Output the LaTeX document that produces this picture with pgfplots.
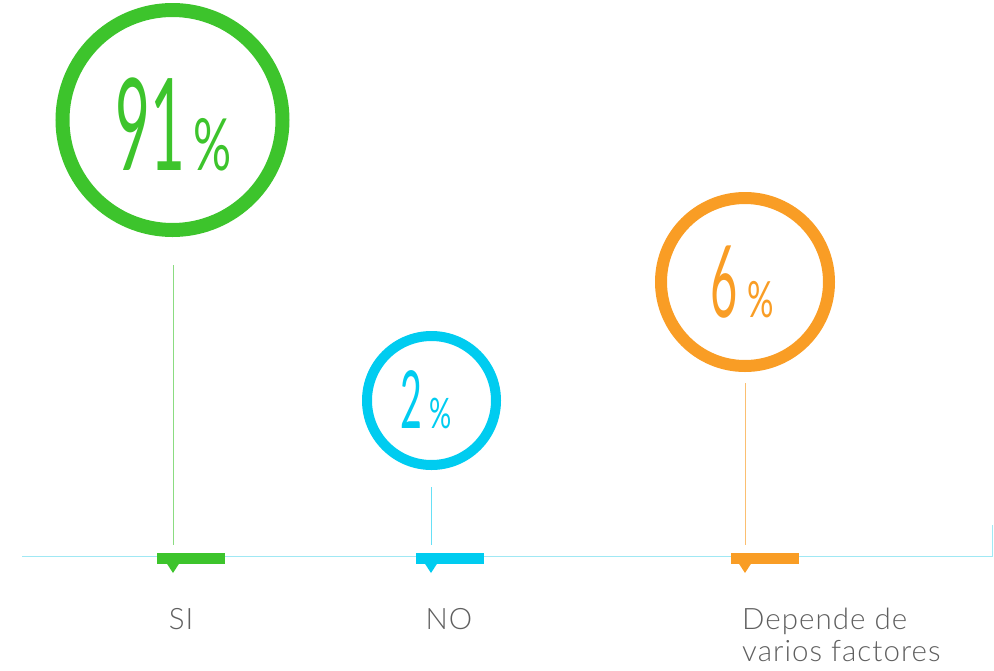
\documentclass[border=0pt]{standalone}
\usepackage{pgfplots}
\pgfplotsset{compat=1.18}
\usepackage{fontspec}
\setmainfont{Lato}
\newfontfamily\lightfont{Lato Light}[LetterSpace=3.5]
\definecolor{cgreen}{RGB}{61,196,44}
\definecolor{ccyan}{RGB}{0,204,240}
\definecolor{corange}{RGB}{249,157,37}
\definecolor{cbase}{RGB}{160,232,244}
\definecolor{ctext}{RGB}{95,95,95}
% #1 number size, #2 percent size, #3 color, #4 number, #5 gap
\newcommand{\pct}[5]{%
  \textcolor{#3}{\scalebox{0.47}[1]{\fontsize{#1}{#1}\selectfont #4}\hspace{#5}\scalebox{0.66}[1]{\fontsize{#2}{#2}\selectfont\%}}}
\begin{document}
\begin{tikzpicture}
\begin{axis}[
  width=994pt, height=670pt, scale only axis,
  xmin=0, xmax=994, ymin=0, ymax=670, y dir=reverse,
  hide axis, clip=false,
]
% baseline
\addplot[cbase, line width=1.5pt] coordinates {(22,556.5) (992.5,556.5) (992.5,525)};
% stems
\addplot[cgreen!60, line width=1pt] coordinates {(173,265) (173,545)};
\addplot[ccyan!60, line width=1pt] coordinates {(431,487) (431,545)};
\addplot[corange!65, line width=1pt] coordinates {(745,383) (745,545)};
% circles
\addplot[only marks, mark=o, mark size=110pt, mark options={draw=cgreen, line width=14pt}] coordinates {(172.5,120)};
\addplot[only marks, mark=o, mark size=64.5pt, mark options={draw=ccyan, line width=10pt}] coordinates {(431.5,400.5)};
\addplot[only marks, mark=o, mark size=84pt, mark options={draw=corange, line width=12pt}] coordinates {(745,282)};
% bars
\addplot[fill=cgreen, draw=none] coordinates {(157,552.5) (225,552.5) (225,563.5) (157,563.5)} --cycle;
\addplot[fill=cgreen, draw=none] coordinates {(166.5,563) (179.5,563) (173,573)} --cycle;
\addplot[fill=ccyan, draw=none] coordinates {(416,552.5) (484,552.5) (484,563.5) (416,563.5)} --cycle;
\addplot[fill=ccyan, draw=none] coordinates {(424.5,563) (437.5,563) (431,573)} --cycle;
\addplot[fill=corange, draw=none] coordinates {(731,552.5) (799,552.5) (799,563.5) (731,563.5)} --cycle;
\addplot[fill=corange, draw=none] coordinates {(738.5,563) (751.5,563) (745,573)} --cycle;
% numbers
\node[anchor=base west, inner sep=0] at (axis cs:115,170) {\pct{128}{72}{cgreen}{91}{9pt}};
\node[anchor=base west, inner sep=0] at (axis cs:400,428) {\pct{80}{42}{ccyan}{2}{7pt}};
\node[anchor=base west, inner sep=0] at (axis cs:710,317) {\pct{100}{50}{corange}{6}{10pt}};
% labels
\node[anchor=base, inner sep=0, text=ctext, font=\lightfont\fontsize{29.5}{34}\selectfont] at (axis cs:181,629) {SI};
\node[anchor=base, inner sep=0, text=ctext, font=\lightfont\fontsize{29.5}{34}\selectfont] at (axis cs:449,629) {NO};
\node[anchor=base west, inner sep=0, text=ctext, font=\lightfont\fontsize{29.5}{34}\selectfont] at (axis cs:742,629) {Depende de};
\node[anchor=base west, inner sep=0, text=ctext, font=\lightfont\fontsize{29.5}{34}\selectfont] at (axis cs:742,661) {varios factores};
\end{axis}
\pgfresetboundingbox
\useasboundingbox (current axis.south west) rectangle (current axis.north east);
\end{tikzpicture}
\end{document}
